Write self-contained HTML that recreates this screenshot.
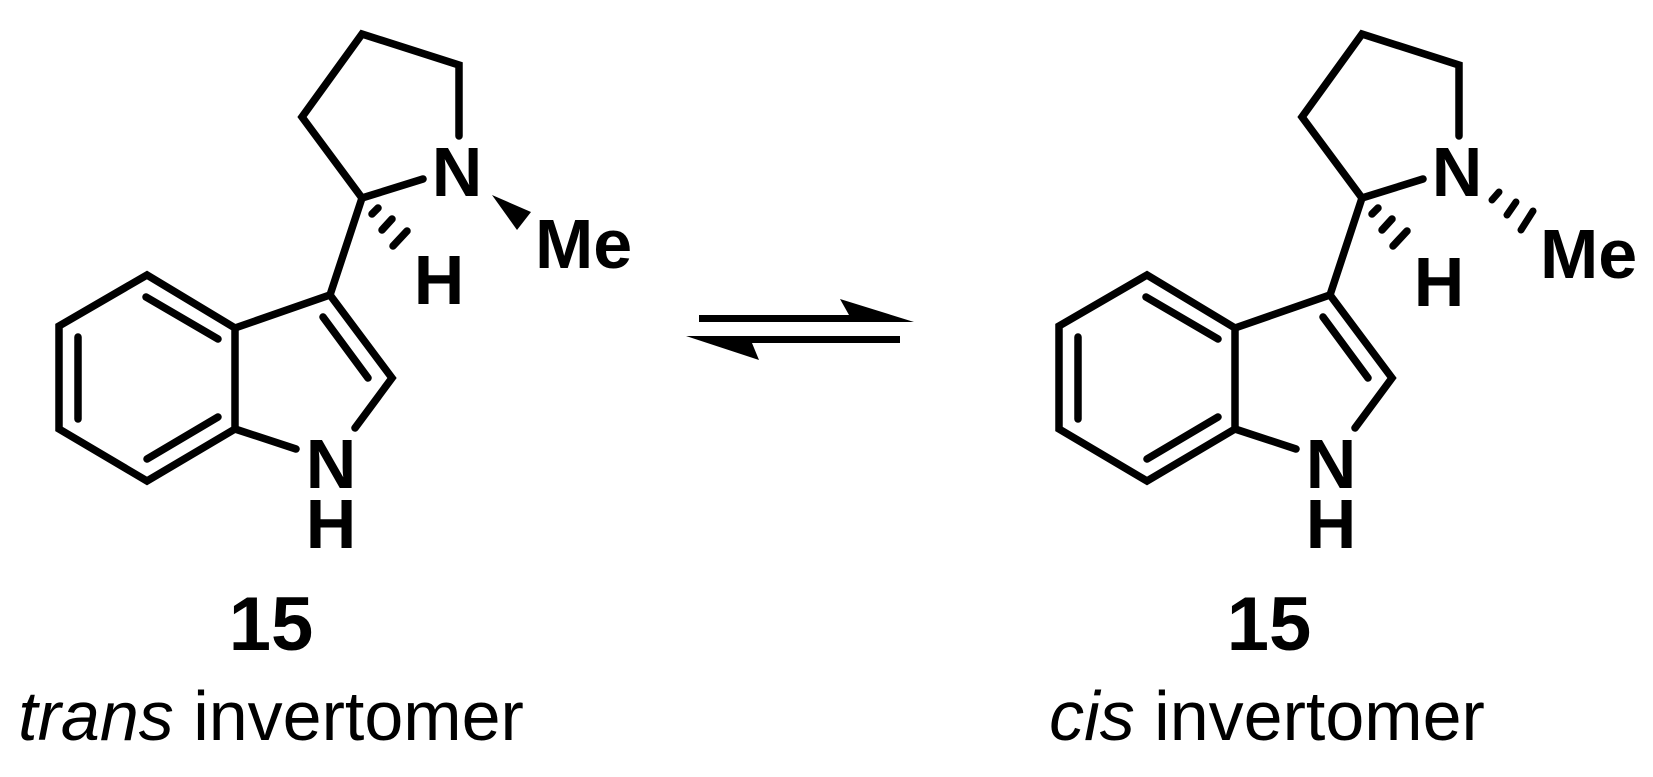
<!DOCTYPE html>
<html><head><meta charset="utf-8"><style>
html,body{margin:0;padding:0;background:#fff;}
svg{display:block;}
text{font-family:"Liberation Sans",Arial,sans-serif;fill:#000;}
.a{font-weight:bold;font-size:70px;text-anchor:middle;}
</style></head><body>
<svg width="1653" height="777" viewBox="0 0 1653 777" xmlns="http://www.w3.org/2000/svg">
<defs>
<g id="mol" stroke="#000" stroke-width="7.5" fill="none" stroke-linecap="round" stroke-linejoin="miter">
  <polyline points="459,136 459,65 362,34 302,117 362,198 423,179"/>
  <line x1="362" y1="198" x2="330" y2="295"/>
  <polygon points="147,275 59,326 59,429 147,481 235,429 235,328"/>
  <polyline points="235,328 330,295 392,378 355,428"/>
  <line x1="235" y1="429" x2="296" y2="449"/>
  <line x1="78" y1="337" x2="78" y2="419"/>
  <line x1="146" y1="297" x2="218" y2="339"/>
  <line x1="147" y1="459" x2="218" y2="417"/>
  <line x1="323" y1="317" x2="368" y2="378"/>
  <line x1="372" y1="214" x2="378" y2="208" />
  <line x1="382" y1="230" x2="392" y2="219"/>
  <line x1="393" y1="246" x2="407" y2="231"/>
</g>
</defs>
<use href="#mol"/>
<use href="#mol" x="1000"/>
<!-- left labels -->
<text class="a" x="457" y="196">N</text>
<text class="a" x="439" y="304">H</text>
<text class="a" x="331" y="488">N</text>
<text class="a" x="331" y="548">H</text>
<text class="a" x="535" y="268" style="text-anchor:start">Me</text>
<polygon points="492,195 531,212 517,230" fill="#000"/>
<!-- right labels -->
<text class="a" x="1457" y="196">N</text>
<text class="a" x="1439" y="306">H</text>
<text class="a" x="1331" y="488">N</text>
<text class="a" x="1331" y="548">H</text>
<text class="a" x="1540" y="278" style="text-anchor:start">Me</text>
<g stroke="#000" stroke-width="7" stroke-linecap="round">
<line x1="1492" y1="200" x2="1499" y2="192"/>
<line x1="1507" y1="215" x2="1516" y2="202"/>
<line x1="1521" y1="230" x2="1533" y2="211"/>
</g>
<!-- arrows -->
<polygon points="699,315 849,315 840,299 914,322 699,322" fill="#000"/>
<polygon points="900,336 686,336 759,360 752,343 900,343" fill="#000"/>
<!-- captions -->
<text x="271" y="650" style="font-weight:bold;font-size:76px;text-anchor:middle">15</text>
<text x="271" y="740" style="font-size:70px;text-anchor:middle"><tspan font-style="italic">trans</tspan> invertomer</text>
<text x="1269" y="650" style="font-weight:bold;font-size:76px;text-anchor:middle">15</text>
<text x="1267" y="740" style="font-size:70px;text-anchor:middle"><tspan font-style="italic">cis</tspan> invertomer</text>
</svg>
</body></html>
